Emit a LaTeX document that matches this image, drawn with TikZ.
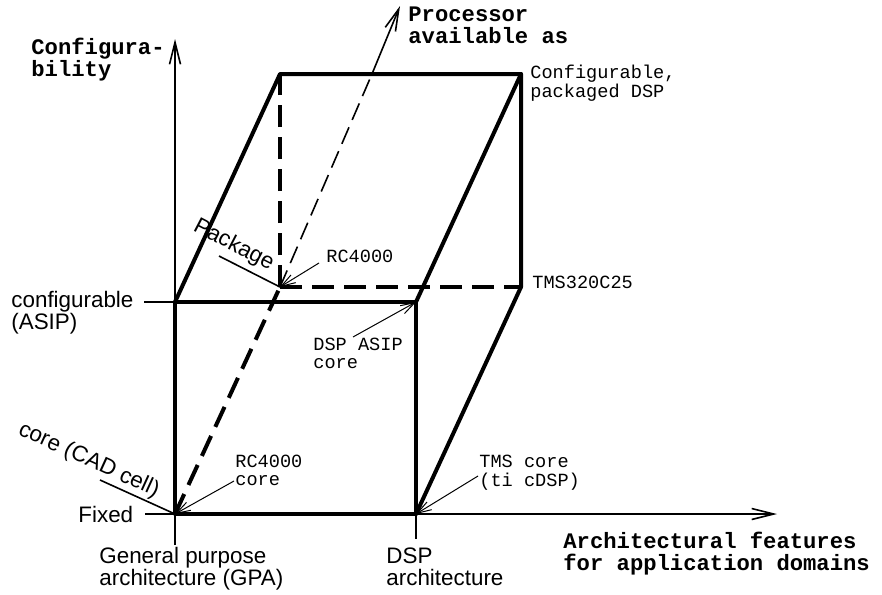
\documentclass[tikz,border=0pt]{standalone}
\usepackage{fontspec}
\setmainfont{Liberation Sans}
\newfontfamily\monof{Liberation Mono}
\usetikzlibrary{arrows.meta}
\newcommand{\lbl}[3]{{#1\begin{tabular}[t]{@{}l@{}}#3\end{tabular}}}
\tikzset{
  edge/.style={line width=2pt, line cap=round, line join=round},
  hidden/.style={line width=2pt, dash pattern=on 11pt off 5pt},
  axis/.style={line width=0.8pt, -{Straight Barb[length=11pt,width=5.5pt,line width=0.8pt]}},
  thinline/.style={line width=0.8pt},
  pointer/.style={line width=0.5pt, -{Straight Barb[length=7pt,width=4.5pt,line width=0.5pt]}},
  txt/.style={inner sep=0pt, anchor=base west},
}
\newcommand{\boldmono}{\monof\bfseries\fontsize{11.1pt}{10.5pt}\selectfont}
\newcommand{\plainmono}{\monof\fontsize{9.3pt}{9.25pt}\selectfont}
\newcommand{\sansl}{\fontsize{11.2pt}{10.8pt}\selectfont}
\begin{document}
\begin{tikzpicture}[x=0.5pt,y=-0.5pt]
\useasboundingbox (0,0) rectangle (882,594);
% corners
\coordinate (O) at (175,514);
\coordinate (A) at (175,302);
\coordinate (D) at (416,514);
\coordinate (E) at (416,302);
\coordinate (Ob) at (280,287);
\coordinate (Ab) at (280,74);
\coordinate (Db) at (521,287);
\coordinate (Eb) at (521,74);
% axis ends
\coordinate (ybot) at (175,545);
\coordinate (ytop) at (175,39);
\coordinate (xleft) at (145,514);
\coordinate (xright) at (777,514);
\coordinate (cfgleft) at (144,302);
\coordinate (dsptick) at (416,539);
\coordinate (ptip) at (400,6);
\coordinate (pcross) at (372,74);
% axes
\draw[axis] (ybot) -- (ytop);
\draw[axis] (xleft) -- (xright);
\draw[thinline] (cfgleft) -- (A);
\draw[thinline] (D) -- (dsptick);
% diagonal axis
\draw[line width=0.8pt, dash pattern=on 9pt off 4pt] (Ob) -- (pcross);
\draw[axis] (pcross) -- (ptip);
% hidden edges
\draw[hidden] (O) -- (Ob);
\draw[hidden] (Ob) -- (Ab);
\draw[hidden] (Ob) -- (Db);
% visible edges
\draw[edge] (O) -- (A) -- (E) -- (D) -- cycle;
\draw[edge] (A) -- (Ab) -- (Eb) -- (Db) -- (D);
\draw[edge] (E) -- (Eb);
% leader lines for rotated labels
\coordinate (pkgl) at (219,256);
\coordinate (corel) at (100,480);
\draw[thinline] (pkgl) -- (Ob);
\draw[thinline] (corel) -- (O);
% texts
\node[txt] (tconf) at (31,54) {\lbl{\boldmono}{}{Configura-\\bility}};
\node[txt] (tproc) at (408,21) {\lbl{\boldmono}{}{Processor\\available as}};
\node[txt] (tarch) at (563,548) {\lbl{\boldmono}{}{Architectural features\\for application domains}};
\node[txt] (tcpd) at (530,78) {\lbl{\plainmono}{}{Configurable,\\packaged DSP}};
\node[txt] (ttms) at (532,288) {\lbl{\plainmono}{}{TMS320C25}};
\node[txt] (trc) at (326,262) {\lbl{\plainmono}{}{RC4000}};
\node[txt] (tdspasip) at (313,350) {\lbl{\plainmono}{}{DSP ASIP\\core}};
\node[txt] (trccore) at (235,467) {\lbl{\plainmono}{}{RC4000\\core}};
\node[txt] (ttmscore) at (479,467) {\lbl{\plainmono}{}{TMS core\\(ti cDSP)}};
\node[txt] (tcfg) at (11,307) {\lbl{\sansl}{}{configurable\\(ASIP)}};
\node[txt] (tfixed) at (78,522) {\sansl Fixed};
\node[txt] (tgpa) at (99,563) {\lbl{\sansl}{}{General purpose\\architecture (GPA)}};
\node[txt] (tdsp) at (386,563) {\lbl{\sansl}{}{DSP\\architecture}};
\node[txt, rotate=-24.5] (tcore) at (17,434) {\sansl core (CAD cell)};
\node[txt, rotate=-27.5] (tpkg) at (192,230) {\sansl Package};
% pointers
\coordinate (prc) at (319,263);
\coordinate (pdsp) at (353,337);
\coordinate (prcc) at (234,481);
\coordinate (ptmsc) at (478,476);
\draw[pointer] (prc) -- (Ob);
\draw[pointer] (pdsp) -- (E);
\draw[pointer] (prcc) -- (O);
\draw[pointer] (ptmsc) -- (D);
\end{tikzpicture}
\end{document}
